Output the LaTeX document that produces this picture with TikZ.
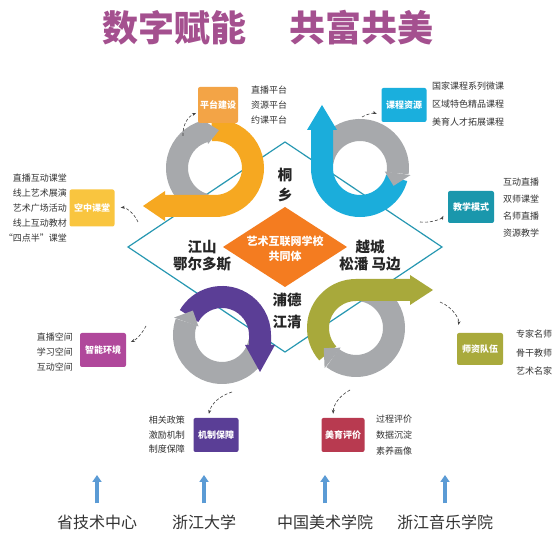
\documentclass[tikz,border=0pt]{standalone}
\usepackage{fontspec}
\setmainfont{Noto Sans CJK SC}
\usetikzlibrary{arrows.meta}
\definecolor{titlepurple}{HTML}{A4508F}
\definecolor{loopgray}{HTML}{A7A9AC}
\definecolor{loopyellow}{HTML}{F6A821}
\definecolor{loopblue}{HTML}{1BADDB}
\definecolor{loopviolet}{HTML}{5B3E96}
\definecolor{loopolive}{HTML}{A8A93B}
\definecolor{rimteal}{HTML}{2898B2}
\definecolor{coreorange}{HTML}{F47C20}
\definecolor{arrowblue}{HTML}{5B9BD5}
\definecolor{ptfill}{HTML}{F3A446}
\definecolor{kcfill}{HTML}{1AAFDD}
\definecolor{kzfill}{HTML}{F9C53F}
\definecolor{jxfill}{HTML}{1A97AC}
\definecolor{znfill}{HTML}{B0489B}
\definecolor{szfill}{HTML}{A9AA3C}
\definecolor{jzfill}{HTML}{5A3E96}
\definecolor{myfill}{HTML}{B83A50}
\tikzset{
  band/.style={line width=22pt},
  box/.style={rounded corners=2pt, text=white, inner sep=1pt, font=\fontsize{9}{10}\selectfont\bfseries},
  note/.style={text=black!80, inner sep=0pt, font=\fontsize{9}{#1}\selectfont},
  place/.style={text=black!85, align=center, font=\fontsize{14.5}{#1}\selectfont\bfseries},
  link/.style={densely dashed, black!75, semithick, -{Stealth[length=4pt]}, shorten >=2pt},
  uparrow/.style={line width=3.5pt, arrowblue, -{Triangle[length=7pt,width=9pt]}},
}
% pointed end of a band: centre, base angle, tip angle, colour
\newcommand{\bandtip}[4]{%
  \fill[#4] ([shift={(#2:51)}]#1) -- ([shift={(#2:25)}]#1) -- ([shift={(#3:38)}]#1) -- cycle;}

\begin{document}
\begin{tikzpicture}[x=1pt,y=1pt]
  \useasboundingbox[fill=white] (0,0) rectangle (557,540);
  \node[text=titlepurple, font=\fontsize{36}{40}\selectfont\bfseries] (title) at (268,512) {数字赋能\hspace{43pt}共富共美};

  % outer frame
  \draw[rimteal, line width=1.2pt] (128,293) -- (285,398) -- (442,293) -- (285,188) -- cycle;

  % top left loop
  \coordinate (c1) at (215,372);
  \draw[band, loopgray] ([shift={(255:38)}]c1) arc[start angle=255, end angle=105, radius=38];
  \draw[band, loopyellow] (165,334) -- (215,334) arc[start angle=-90, end angle=95, radius=38];
  \fill[loopyellow] (165,319) -- (143,334) -- (165,349) -- cycle;
  \bandtip{c1}{106}{84}{loopgray}

  % top right loop
  \coordinate (c2) at (360,372);
  \draw[band, loopgray] ([shift={(170:38)}]c2) arc[start angle=170, end angle=-8, radius=38];
  \draw[band, loopblue] (322,410) -- (322,372) arc[start angle=180, end angle=345, radius=38];
  \fill[loopblue] (307,410) -- (322,435) -- (337,410) -- cycle;
  \bandtip{c2}{-8}{-28}{loopgray}

  % bottom left loop
  \coordinate (c3) at (222,205);
  \draw[band, loopgray] ([shift={(350:38)}]c3) arc[start angle=350, end angle=160, radius=38];
  \draw[band, loopviolet] ([shift={(150:38)}]c3) arc[start angle=150, end angle=0, radius=38] -- (260,195);
  \fill[loopviolet] (245,195) -- (260,168) -- (275,195) -- cycle;
  \bandtip{c3}{160}{140}{loopgray}

  % bottom right loop
  \coordinate (c4) at (356,212);
  \draw[band, loopgray] ([shift={(80:38)}]c4) arc[start angle=80, end angle=-128, radius=38];
  \draw[band, loopolive] ([shift={(222:38)}]c4) arc[start angle=222, end angle=90, radius=38] -- (410,250);
  \fill[loopolive] (410,235) -- (433,250) -- (410,265) -- cycle;
  \bandtip{c4}{232}{212}{loopgray}

  % centre
  \fill[coreorange] (223,293) -- (285,333) -- (347,293) -- (285,253) -- cycle;
  \node[text=white, align=center, font=\fontsize{11}{15}\selectfont\bfseries] (core) at (285,291) {艺术互联网学校\\共同体};
  \node[place=20] (tongxiang) at (285,355) {桐\\乡};
  \node[place=17] (jiangshan) at (202,284) {江山\\鄂尔多斯};
  \node[place=17] (yuecheng) at (370,284) {越城\\松潘 马边};
  \node[place=22] (pujiang) at (287,229) {浦德\\江清};

  % boxes
  \node[box, fill=ptfill, minimum width=40pt, minimum height=36pt] (pt) at (218,435) {平台建设};
  \node[box, fill=kcfill, minimum width=45pt, minimum height=34pt] (kc) at (404,435) {课程资源};
  \node[box, fill=kzfill, minimum width=45pt, minimum height=37pt] (kz) at (92,332) {空中课堂};
  \node[box, fill=jxfill, minimum width=46pt, minimum height=32pt] (jx) at (471,333) {教学模式};
  \node[box, fill=znfill, minimum width=46pt, minimum height=34pt] (zn) at (103,190) {智能环境};
  \node[box, fill=szfill, minimum width=46pt, minimum height=32pt] (sz) at (480,191) {师资队伍};
  \node[box, fill=jzfill, minimum width=45pt, minimum height=34pt] (jz) at (216,105) {机制保障};
  \node[box, fill=myfill, minimum width=43pt, minimum height=34pt] (my) at (343,105) {美育评价};

  % notes
  \node[note=15, align=left, anchor=west] (pt-txt) at (251,435) {直播平台\\资源平台\\约课平台};
  \node[note=18, align=left, anchor=west] (kc-txt) at (432,436) {国家课程系列微课\\区域特色精品课程\\美育人才拓展课程};
  \node[note=15.2, align=right, anchor=east] (kz-txt) at (67,332) {直播互动课堂\\线上艺术展演\\艺术广场活动\\线上互动教材\\“四点半”课堂};
  \node[note=17, align=left, anchor=west] (jx-txt) at (503,332) {互动直播\\双师课堂\\名师直播\\资源教学};
  \node[note=15, align=right, anchor=east] (zn-txt) at (73,188) {直播空间\\学习空间\\互动空间};
  \node[note=18.5, align=left, anchor=west] (sz-txt) at (516,187) {专家名师\\骨干教师\\艺术名家};
  \node[note=14.5, align=right, anchor=east] (jz-txt) at (185,105) {相关政策\\激励机制\\制度保障};
  \node[note=16, align=left, anchor=west] (my-txt) at (376,105) {过程评价\\数据沉淀\\素养画像};

  % links from loops to boxes
  \coordinate (s1) at (183,404);
  \coordinate (s2) at (362,423);
  \coordinate (s3) at (138,318);
  \coordinate (s4) at (420,318);
  \coordinate (s5) at (146,214);
  \coordinate (s6) at (440,238);
  \coordinate (s7) at (232,148);
  \coordinate (s8) at (350,150);
  \draw[link] (s1) to[bend left=35] (pt.200);
  \draw[link, shorten >=5pt] (s2) to[bend left=25] (kc.205);
  \draw[link, shorten >=6pt] (s3) to[bend right=35] (kz.east);
  \draw[link, shorten >=10pt] (s4) to[bend right=35] (jx.west);
  \draw[link, shorten >=5pt] (s5) to[bend left=20] (zn.15);
  \draw[link, shorten >=8pt] (s6) to[bend left=40] (sz.north west);
  \draw[link, shorten >=4pt] (s7) to[bend right=30] (jz.115);
  \draw[link, shorten >=4pt] (s8) to[bend right=30] (my.120);

  % partners
  \foreach \name/\x/\txt in {b1/97/省技术中心, b2/204/浙江大学, b3/325/中国美术学院, b4/445/浙江音乐学院} {
    \node[text=black!80, inner sep=0pt, font=\fontsize{16}{18}\selectfont] (\name) at (\x,18) {\txt};
    \coordinate (\name-top) at (\x,65);
    \draw[uparrow, shorten <=11pt] (\name.north) -- (\name-top);
  }
\end{tikzpicture}
\end{document}
